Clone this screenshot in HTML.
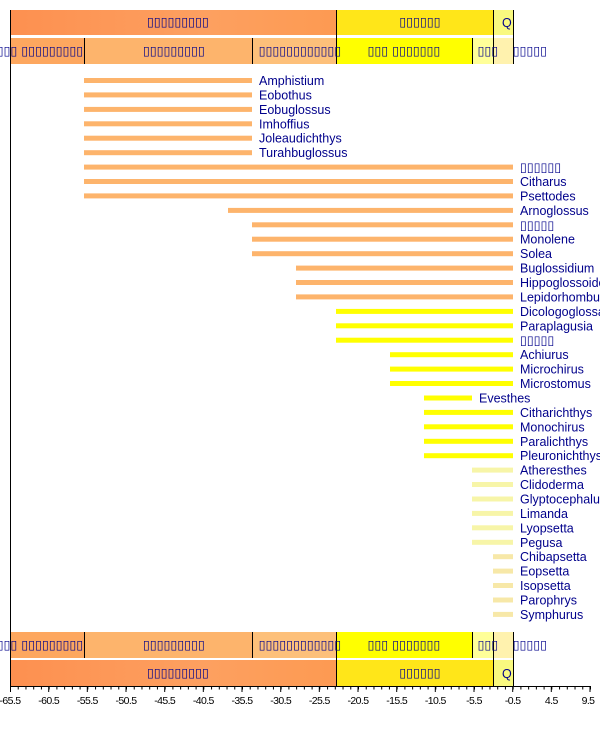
<!DOCTYPE html><html><head><style>body{margin:0;background:#fff}svg{display:block}text{font-family:"Liberation Sans","DejaVu Sans",sans-serif}.t{fill:#00008b;font-size:12.5px;font-family:"DejaVu Sans",sans-serif;text-anchor:middle}.l{fill:#00008b;font-size:12.5px}</style></head><body>
<svg width="600" height="735" xmlns="http://www.w3.org/2000/svg">
<defs>
<linearGradient id="pg" x1="0" x2="1"><stop offset="0" stop-color="#fd9050"/><stop offset=".6" stop-color="#fda060"/><stop offset="1" stop-color="#fd9a52"/></linearGradient>
</defs>
<rect x="10" y="10" width="326" height="25" fill="url(#pg)"/>
<rect x="336" y="10" width="157" height="25" fill="#ffe619"/>
<rect x="493" y="10" width="20" height="25" fill="#f9f97f"/>
<rect x="10" y="38" width="74" height="26" fill="#fda75f"/>
<rect x="84" y="38" width="168" height="26" fill="#fdb46c"/>
<rect x="252" y="38" width="84" height="26" fill="#fdc07a"/>
<rect x="336" y="38" width="136" height="26" fill="#ffff00"/>
<rect x="472" y="38" width="21" height="26" fill="#ffff99"/>
<rect x="493" y="38" width="20" height="26" fill="#fff2ae"/>
<g stroke="#000"><line x1="336.5" y1="10" x2="336.5" y2="64"/><line x1="493.5" y1="10" x2="493.5" y2="64"/><line x1="513.5" y1="10" x2="513.5" y2="64"/>
<line x1="84.5" y1="38" x2="84.5" y2="64"/><line x1="252.5" y1="38" x2="252.5" y2="64"/><line x1="472.5" y1="38" x2="472.5" y2="64"/></g>
<text class="t" x="178" y="26">▯▯▯▯▯▯▯▯▯</text><text class="t" x="420" y="26">▯▯▯▯▯▯</text><text class="l" x="502" y="27">Q</text>
<text class="t" x="40" y="55">▯▯▯ ▯▯▯▯▯▯▯▯▯</text><text class="t" x="174" y="55">▯▯▯▯▯▯▯▯▯</text><text class="t" x="300" y="55">▯▯▯▯▯▯▯▯▯▯▯▯</text><text class="t" x="404" y="55">▯▯▯ ▯▯▯▯▯▯▯</text><text class="t" x="488" y="55">▯▯▯</text><text class="t" x="530" y="55">▯▯▯▯▯</text>

<rect x="10" y="632" width="74" height="26" fill="#fda75f"/>
<rect x="84" y="632" width="168" height="26" fill="#fdb46c"/>
<rect x="252" y="632" width="84" height="26" fill="#fdc07a"/>
<rect x="336" y="632" width="136" height="26" fill="#ffff00"/>
<rect x="472" y="632" width="21" height="26" fill="#ffff99"/>
<rect x="493" y="632" width="20" height="26" fill="#fff2ae"/>
<rect x="10" y="660" width="326" height="26" fill="url(#pg)"/>
<rect x="336" y="660" width="157" height="26" fill="#ffe619"/>
<rect x="493" y="660" width="20" height="26" fill="#f9f97f"/>
<g stroke="#000"><line x1="84.5" y1="632" x2="84.5" y2="658"/><line x1="252.5" y1="632" x2="252.5" y2="658"/><line x1="336.5" y1="632" x2="336.5" y2="686"/><line x1="472.5" y1="632" x2="472.5" y2="658"/><line x1="493.5" y1="632" x2="493.5" y2="686"/><line x1="513.5" y1="632" x2="513.5" y2="686"/></g>
<text class="t" x="40" y="649">▯▯▯ ▯▯▯▯▯▯▯▯▯</text><text class="t" x="174" y="649">▯▯▯▯▯▯▯▯▯</text><text class="t" x="300" y="649">▯▯▯▯▯▯▯▯▯▯▯▯</text><text class="t" x="404" y="649">▯▯▯ ▯▯▯▯▯▯▯</text><text class="t" x="488" y="649">▯▯▯</text><text class="t" x="530" y="649">▯▯▯▯▯</text>
<text class="t" x="178" y="677">▯▯▯▯▯▯▯▯▯</text><text class="t" x="420" y="677">▯▯▯▯▯▯</text><text class="l" x="502" y="678">Q</text>

<line x1="10.5" y1="10" x2="10.5" y2="686" stroke="#000"/>
<line x1="10" y1="686.5" x2="591" y2="686.5" stroke="#000"/>
<line x1="10" y1="688" x2="591" y2="688" stroke="#000" stroke-width="3" stroke-dasharray="1 6.7333"/>
<g stroke="#000"><line x1="10.5" y1="686" x2="10.5" y2="692"/><line x1="48.7" y1="686" x2="48.7" y2="692"/><line x1="87.3" y1="686" x2="87.3" y2="692"/><line x1="126" y1="686" x2="126" y2="692"/><line x1="164.7" y1="686" x2="164.7" y2="692"/><line x1="203.3" y1="686" x2="203.3" y2="692"/><line x1="242" y1="686" x2="242" y2="692"/><line x1="280.7" y1="686" x2="280.7" y2="692"/><line x1="319.3" y1="686" x2="319.3" y2="692"/><line x1="358" y1="686" x2="358" y2="692"/><line x1="396.7" y1="686" x2="396.7" y2="692"/><line x1="435.3" y1="686" x2="435.3" y2="692"/><line x1="474" y1="686" x2="474" y2="692"/><line x1="512.7" y1="686" x2="512.7" y2="692"/><line x1="551.3" y1="686" x2="551.3" y2="692"/><line x1="590" y1="686" x2="590" y2="692"/></g>
<g font-size="10.5" text-anchor="middle" letter-spacing="-0.6"><text x="10" y="704">-65.5</text><text x="48.7" y="704">-60.5</text><text x="87.3" y="704">-55.5</text><text x="126" y="704">-50.5</text><text x="164.7" y="704">-45.5</text><text x="203.3" y="704">-40.5</text><text x="242" y="704">-35.5</text><text x="280.7" y="704">-30.5</text><text x="319.3" y="704">-25.5</text><text x="358" y="704">-20.5</text><text x="396.7" y="704">-15.5</text><text x="435.3" y="704">-10.5</text><text x="474" y="704">-5.5</text><text x="512.7" y="704">-0.5</text><text x="551.3" y="704">4.5</text><text x="588" y="704">9.5</text></g>

<g fill="#fdb46c">
<rect x="84" y="78" width="168" height="5"/><rect x="84" y="92.4" width="168" height="5"/><rect x="84" y="106.9" width="168" height="5"/><rect x="84" y="121.3" width="168" height="5"/><rect x="84" y="135.7" width="168" height="5"/><rect x="84" y="150.2" width="168" height="5"/>
<rect x="84" y="164.6" width="429" height="5"/><rect x="84" y="179" width="429" height="5"/><rect x="84" y="193.4" width="429" height="5"/>
<rect x="228" y="207.9" width="285" height="5"/>
<rect x="252" y="222.3" width="261" height="5"/><rect x="252" y="236.7" width="261" height="5"/><rect x="252" y="251.2" width="261" height="5"/>
<rect x="296" y="265.6" width="217" height="5"/><rect x="296" y="280" width="217" height="5"/><rect x="296" y="294.4" width="217" height="5"/>
</g>
<g fill="#ffff00">
<rect x="336" y="308.9" width="177" height="5"/><rect x="336" y="323.3" width="177" height="5"/><rect x="336" y="337.7" width="177" height="5"/>
<rect x="390" y="352.2" width="123" height="5"/><rect x="390" y="366.6" width="123" height="5"/><rect x="390" y="381" width="123" height="5"/>
<rect x="424" y="395.5" width="48" height="5"/>
<rect x="424" y="409.9" width="89" height="5"/><rect x="424" y="424.3" width="89" height="5"/><rect x="424" y="438.8" width="89" height="5"/><rect x="424" y="453.2" width="89" height="5"/>
</g>
<g fill="#f7f5a8">
<rect x="472" y="467.6" width="41" height="5"/><rect x="472" y="482" width="41" height="5"/><rect x="472" y="496.5" width="41" height="5"/><rect x="472" y="510.9" width="41" height="5"/><rect x="472" y="525.3" width="41" height="5"/><rect x="472" y="539.8" width="41" height="5"/>
</g>
<g fill="#f7e8a8">
<rect x="493" y="554.2" width="20" height="5"/><rect x="493" y="568.6" width="20" height="5"/><rect x="493" y="583" width="20" height="5"/><rect x="493" y="597.5" width="20" height="5"/><rect x="493" y="611.9" width="20" height="5"/>
</g>
<g class="l" fill="#00008b">
<text x="259" y="85">Amphistium</text><text x="259" y="99.4">Eobothus</text><text x="259" y="113.9">Eobuglossus</text><text x="259" y="128.3">Imhoffius</text><text x="259" y="142.7">Joleaudichthys</text><text x="259" y="157.2">Turahbuglossus</text>
<text x="520" y="171.6" font-family="DejaVu Sans">▯▯▯▯▯▯</text><text x="520" y="186">Citharus</text><text x="520" y="200.4">Psettodes</text><text x="520" y="214.9">Arnoglossus</text><text x="520" y="229.3" font-family="DejaVu Sans">▯▯▯▯▯</text><text x="520" y="243.7">Monolene</text><text x="520" y="258.2">Solea</text>
<text x="520" y="272.6">Buglossidium</text><text x="520" y="287">Hippoglossoides</text><text x="520" y="301.4">Lepidorhombus</text><text x="520" y="315.9">Dicologoglossa</text><text x="520" y="330.3">Paraplagusia</text><text x="520" y="344.7" font-family="DejaVu Sans">▯▯▯▯▯</text>
<text x="520" y="359.2">Achiurus</text><text x="520" y="373.6">Microchirus</text><text x="520" y="388">Microstomus</text><text x="479" y="402.5">Evesthes</text><text x="520" y="416.9">Citharichthys</text><text x="520" y="431.3">Monochirus</text><text x="520" y="445.8">Paralichthys</text><text x="520" y="460.2">Pleuronichthys</text>
<text x="520" y="474.6">Atheresthes</text><text x="520" y="489">Clidoderma</text><text x="520" y="503.5">Glyptocephalus</text><text x="520" y="517.9">Limanda</text><text x="520" y="532.3">Lyopsetta</text><text x="520" y="546.8">Pegusa</text>
<text x="520" y="561.2">Chibapsetta</text><text x="520" y="575.6">Eopsetta</text><text x="520" y="590">Isopsetta</text><text x="520" y="604.5">Parophrys</text><text x="520" y="618.9">Symphurus</text>
</g>
</svg></body></html>
